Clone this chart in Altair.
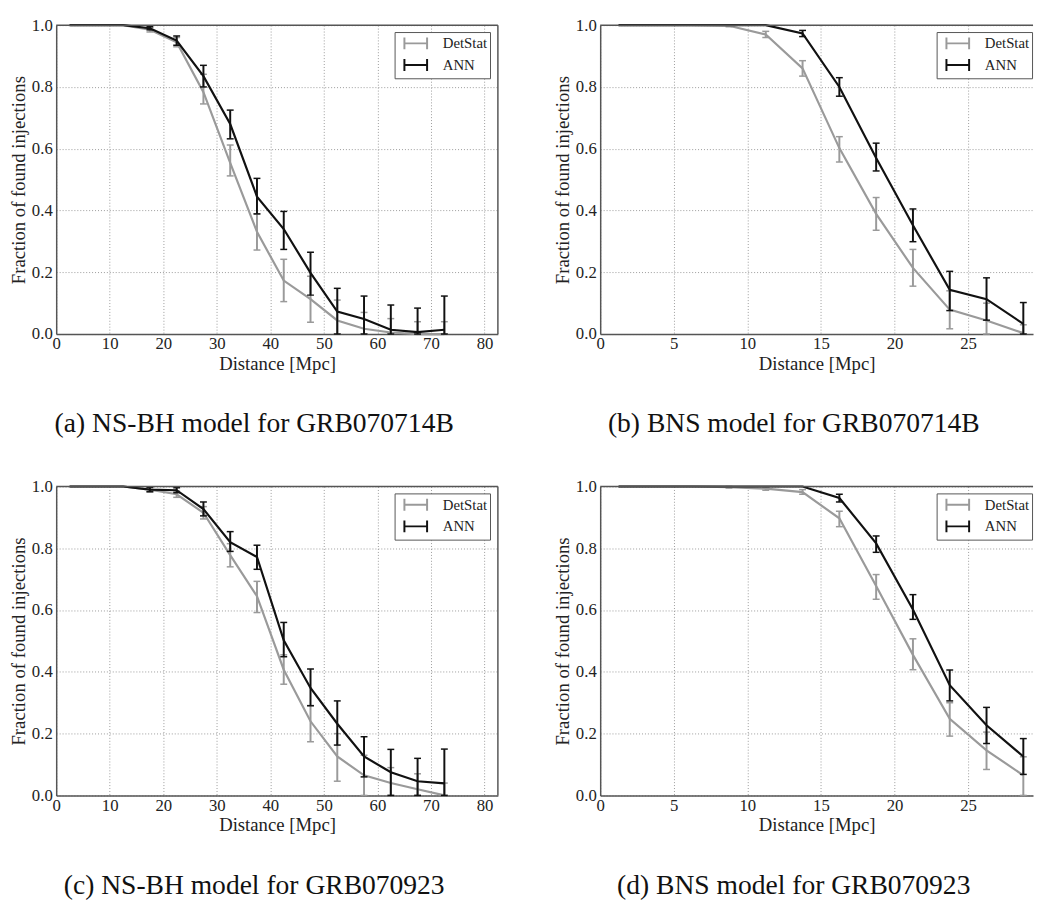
import altair as alt
import pandas as pd

# ---------------- data ----------------
dist_nsbh = [2.5, 7.5, 12.5, 17.5, 22.5, 27.5, 32.5, 37.5, 42.5, 47.5, 52.5, 57.5, 62.5, 67.5, 72.5]
dist_bns = [1.25, 3.75, 6.25, 8.75, 11.25, 13.75, 16.25, 18.75, 21.25, 23.75, 26.25, 28.75]

# (a) NS-BH model for GRB070714B
a_det = [1.0, 1.0, 1.0, 0.985, 0.945, 0.783, 0.554, 0.331, 0.173, 0.113, 0.044, 0.017, 0.005, 0.0, 0.0]
a_det_lo = [1.0, 1.0, 1.0, 0.978, 0.93, 0.745, 0.512, 0.272, 0.105, 0.038, 0.0, 0.0, 0.0, 0.0, 0.0]
a_det_hi = [1.0, 1.0, 1.0, 0.992, 0.96, 0.841, 0.612, 0.389, 0.242, 0.187, 0.11, 0.07, 0.05, 0.04, 0.04]
a_ann = [1.0, 1.0, 1.0, 0.99, 0.95, 0.835, 0.68, 0.445, 0.34, 0.198, 0.073, 0.049, 0.014, 0.006, 0.014]
a_ann_lo = [1.0, 1.0, 1.0, 0.985, 0.935, 0.80, 0.632, 0.389, 0.274, 0.126, 0.0, 0.0, 0.0, 0.0, 0.0]
a_ann_hi = [1.0, 1.0, 1.0, 0.995, 0.965, 0.87, 0.725, 0.504, 0.397, 0.265, 0.148, 0.123, 0.094, 0.084, 0.123]

# (b) BNS model for GRB070714B
b_det = [1.0, 1.0, 1.0, 0.998, 0.97, 0.86, 0.602, 0.389, 0.214, 0.079, 0.044, 0.003]
b_det_lo = [1.0, 1.0, 1.0, 0.995, 0.96, 0.835, 0.557, 0.336, 0.155, 0.017, 0.0, 0.0]
b_det_hi = [1.0, 1.0, 1.0, 1.0, 0.98, 0.885, 0.639, 0.442, 0.274, 0.14, 0.10, 0.03]
b_ann = [1.0, 1.0, 1.0, 1.0, 1.0, 0.973, 0.80, 0.57, 0.352, 0.143, 0.113, 0.033]
b_ann_lo = [1.0, 1.0, 1.0, 1.0, 1.0, 0.963, 0.77, 0.528, 0.299, 0.076, 0.045, 0.0]
b_ann_hi = [1.0, 1.0, 1.0, 1.0, 1.0, 0.983, 0.83, 0.618, 0.405, 0.203, 0.182, 0.102]

# (c) NS-BH model for GRB070923
c_det = [1.0, 1.0, 1.0, 0.99, 0.975, 0.915, 0.778, 0.645, 0.407, 0.24, 0.126, 0.065, 0.04, 0.02, 0.0]
c_det_lo = [1.0, 1.0, 1.0, 0.983, 0.965, 0.895, 0.74, 0.592, 0.36, 0.174, 0.046, 0.0, 0.0, 0.0, 0.0]
c_det_hi = [1.0, 1.0, 1.0, 0.997, 0.985, 0.935, 0.815, 0.693, 0.455, 0.291, 0.2, 0.13, 0.09, 0.07, 0.04]
c_ann = [1.0, 1.0, 1.0, 0.99, 0.988, 0.927, 0.82, 0.772, 0.502, 0.348, 0.232, 0.126, 0.075, 0.046, 0.039]
c_ann_lo = [1.0, 1.0, 1.0, 0.983, 0.98, 0.905, 0.79, 0.732, 0.449, 0.29, 0.163, 0.06, 0.0, 0.0, 0.0]
c_ann_hi = [1.0, 1.0, 1.0, 0.997, 0.996, 0.95, 0.854, 0.81, 0.56, 0.409, 0.306, 0.19, 0.149, 0.12, 0.15]

# (d) BNS model for GRB070923
d_det = [1.0, 1.0, 1.0, 0.998, 0.993, 0.982, 0.897, 0.678, 0.455, 0.248, 0.146, 0.065]
d_det_lo = [1.0, 1.0, 1.0, 0.995, 0.988, 0.975, 0.87, 0.635, 0.407, 0.192, 0.084, 0.0]
d_det_hi = [1.0, 1.0, 1.0, 1.0, 0.998, 0.99, 0.92, 0.715, 0.507, 0.3, 0.205, 0.125]
d_ann = [1.0, 1.0, 1.0, 1.0, 1.0, 1.0, 0.963, 0.816, 0.602, 0.357, 0.227, 0.126]
d_ann_lo = [1.0, 1.0, 1.0, 1.0, 1.0, 1.0, 0.95, 0.787, 0.57, 0.306, 0.168, 0.068]
d_ann_hi = [1.0, 1.0, 1.0, 1.0, 1.0, 1.0, 0.975, 0.84, 0.65, 0.406, 0.285, 0.184]

series_names = ["DetStat", "ANN"]
series_colors = ["#9a9a9a", "#111111"]
y_ticks = [0.0, 0.2, 0.4, 0.6, 0.8, 1.0]
x_ticks_nsbh = [0, 10, 20, 30, 40, 50, 60, 70, 80]
x_ticks_bns = [0, 5, 10, 15, 20, 25]
captions = ["(a) NS-BH model for GRB070714B", "(b) BNS model for GRB070714B",
            "(c) NS-BH model for GRB070923", "(d) BNS model for GRB070923"]

# ---------------- style ----------------
FONT = "Liberation Serif"
FRAME = "#555555"
HEIGHT = 314
W_NSBH = 449
W_BNS = 440
XMAX_NSBH = 82.5
XMAX_BNS = 29.41
ERR_SYMBOL = "M-1.63,-0.85L-1.63,0.85M-1.63,0L1.63,0M1.63,-0.85L1.63,0.85"

cscale = alt.Scale(domain=series_names, range=series_colors)


def make_df(x, det, det_lo, det_hi, ann, ann_lo, ann_hi):
    rows = []
    for s, ys, los, his in [("DetStat", det, det_lo, det_hi), ("ANN", ann, ann_lo, ann_hi)]:
        for xi, yi, l, h in zip(x, ys, los, his):
            rows.append({"x": xi, "y": yi, "lo": l, "hi": h, "series": s})
    return pd.DataFrame(rows)


def panel(df, xmax, xticks, width, caption, legend_x, right_edge):
    xs = alt.Scale(domain=[0, xmax], nice=False, zero=False)
    ys = alt.Scale(domain=[0, 1], nice=False, zero=False)
    xax = alt.Axis(values=xticks, format="d", title="Distance [Mpc]")
    yax = alt.Axis(values=y_ticks, format=".1f", title="Fraction of found injections")

    legend = alt.Legend(
        title=None, orient="none", legendX=legend_x, legendY=7,
        symbolType=ERR_SYMBOL, symbolSize=200, symbolStrokeWidth=2,
        symbolFillColor="transparent", symbolOffset=10,
        labelFont=FONT, labelFontSize=15, labelColor="#222222", labelOffset=19,
        fillColor="white", strokeColor=FRAME, padding=3, rowPadding=1, cornerRadius=0,
    )

    layers = []
    for i, s in enumerate(series_names):
        sub = alt.Chart(df).transform_filter(alt.datum.series == s)
        col = alt.Color("series:N", scale=cscale, legend=legend if i == 0 else None)
        col_n = alt.Color("series:N", scale=cscale, legend=None)
        line = sub.mark_line(strokeWidth=2.2).encode(
            x=alt.X("x:Q", scale=xs, axis=xax),
            y=alt.Y("y:Q", scale=ys, axis=yax),
            color=col,
        )
        errs = sub.transform_filter("datum.hi > datum.lo")
        bars = errs.mark_rule(strokeWidth=2).encode(
            x=alt.X("x:Q", scale=xs, axis=xax),
            y=alt.Y("lo:Q", scale=ys, axis=yax),
            y2="hi:Q",
            color=col_n,
        )
        cap_lo = errs.mark_tick(orient="horizontal", size=7, thickness=1.5, opacity=1).encode(
            x=alt.X("x:Q", scale=xs, axis=xax),
            y=alt.Y("lo:Q", scale=ys, axis=yax),
            color=col_n,
        )
        cap_hi = errs.mark_tick(orient="horizontal", size=7, thickness=1.5, opacity=1).encode(
            x=alt.X("x:Q", scale=xs, axis=xax),
            y=alt.Y("hi:Q", scale=ys, axis=yax),
            color=col_n,
        )
        layers += [line, bars, cap_lo, cap_hi]

    fdf = pd.DataFrame({"k": [0]})
    top = alt.Chart(fdf).mark_rule(color=FRAME, strokeWidth=1.5).encode(
        x=alt.value(0), x2=alt.value(width), y=alt.value(0))
    layers.append(top)
    if right_edge:
        right = alt.Chart(fdf).mark_rule(color=FRAME, strokeWidth=1.5).encode(
            x=alt.value(width), y=alt.value(0), y2=alt.value(HEIGHT))
        layers.append(right)

    return alt.layer(*layers).properties(
        width=width, height=HEIGHT,
        title=alt.TitleParams(text=caption, orient="bottom", anchor="middle", frame="bounds",
                              font=FONT, fontSize=28, fontWeight="normal",
                              color="#111111", offset=38),
    )


pa = panel(make_df(dist_nsbh, a_det, a_det_lo, a_det_hi, a_ann, a_ann_lo, a_ann_hi),
           XMAX_NSBH, x_ticks_nsbh, W_NSBH, captions[0], 344, True)
pb = panel(make_df(dist_bns, b_det, b_det_lo, b_det_hi, b_ann, b_ann_lo, b_ann_hi),
           XMAX_BNS, x_ticks_bns, W_BNS, captions[1], 342, False)
pc = panel(make_df(dist_nsbh, c_det, c_det_lo, c_det_hi, c_ann, c_ann_lo, c_ann_hi),
           XMAX_NSBH, x_ticks_nsbh, W_NSBH, captions[2], 344, True)
pd_ = panel(make_df(dist_bns, d_det, d_det_lo, d_det_hi, d_ann, d_ann_lo, d_ann_hi),
            XMAX_BNS, x_ticks_bns, W_BNS, captions[3], 342, False)

row1 = alt.hconcat(pa, pb, spacing=54).resolve_legend(color="independent")
row2 = alt.hconcat(pc, pd_, spacing=54).resolve_legend(color="independent")

chart = alt.vconcat(row1, row2, spacing=38).resolve_legend(color="independent").properties(
    padding={"left": 1, "top": 0, "right": 0, "bottom": 0}
).configure_axis(
    labelFont=FONT, labelFontSize=17, labelColor="#222222",
    titleFont=FONT, titleFontSize=19, titleFontWeight="normal", titleColor="#222222",
    grid=True, gridColor="#9a9a9a", gridDash=[1, 2], gridWidth=1,
    ticks=False, tickSize=0, domainColor=FRAME, domainWidth=1.5,
    labelOverlap=False, labelFlush=False,
).configure_axisX(
    labelPadding=2, titlePadding=3,
).configure_axisY(
    labelPadding=4, titlePadding=3,
).configure_view(
    stroke="transparent"
)

chart.save("out.html", embed_options={"renderer": "svg", "actions": False})
